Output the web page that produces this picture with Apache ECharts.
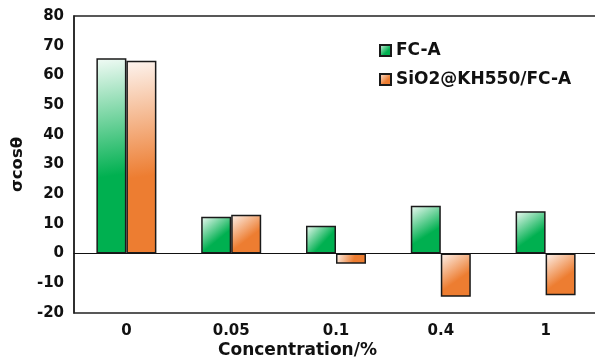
<!DOCTYPE html>
<html>
<head>
<meta charset="utf-8">
<script src="https://cdn.jsdelivr.net/npm/echarts@6/dist/echarts.min.js"></script>
<style>
  html, body { margin: 0; padding: 0; background: #fff; }
  #chart { width: 595px; height: 360px; }
</style>
</head>
<body>
<div id="chart"></div>
<script>
// Concentration levels on the x axis
const categories = ['0', '0.05', '0.1', '0.4', '1'];
// σcosθ for each coating
const fcA = [65.8, 12.4, 9.4, 16.1, 14.3];
const sio2FcA = [64.9, 13.1, -3.4, -14.5, -14.0];
const seriesNames = ['FC-A', 'SiO2@KH550/FC-A'];
const xTitle = 'Concentration/%';

const FONT = 'DejaVu Sans';

function fade(light, solid) {
  return new echarts.graphic.LinearGradient(0, 0, 1, 1, [
    { offset: 0, color: light },
    { offset: 0.6, color: solid },
    { offset: 1, color: solid }
  ]);
}

const chart = echarts.init(document.getElementById('chart'), null, { renderer: 'canvas' });

chart.setOption({
  animation: false,
  backgroundColor: '#fff',
  graphic: [{
    type: 'text',
    left: 'center',
    top: 342,
    style: {
      text: xTitle,
      font: 'bold 17px "DejaVu Sans"',
      fill: '#111'
    }
  }],
  grid: {
    left: 74, right: -3, top: 16, bottom: 47,
    outerBoundsMode: 'none',
    containLabel: false,
    show: true, borderColor: '#222', borderWidth: 1.5, backgroundColor: 'transparent'
  },
  legend: {
    left: 374, top: 37, orient: 'vertical', itemGap: 12,
    itemWidth: 11, itemHeight: 11, icon: 'rect',
    textStyle: { fontFamily: FONT, fontWeight: 'bold', fontSize: 17, color: '#111' },
    data: seriesNames
  },
  xAxis: {
    type: 'category',
    data: categories,
    position: 'bottom',
    axisLine: { onZero: true, lineStyle: { color: '#111', width: 1.2 } },
    axisTick: { show: false },
    axisLabel: {
      fontFamily: FONT, fontWeight: 'bold', fontSize: 15, color: '#111',
      margin: 11, interval: 0
    }
  },
  yAxis: {
    type: 'value',
    min: -20, max: 80, interval: 10,
    splitLine: { show: false },
    axisLine: { show: true, lineStyle: { color: '#222', width: 1.5 } },
    axisTick: { show: false },
    axisLabel: { fontFamily: FONT, fontWeight: 'bold', fontSize: 15, color: '#111', margin: 10 },
    name: 'σcosθ',
    nameLocation: 'middle',
    nameGap: 45,
    nameTextStyle: { fontFamily: FONT, fontWeight: 'bold', fontSize: 16.5, color: '#111' }
  },
  series: [
    {
      name: seriesNames[0],
      type: 'bar',
      data: fcA,
      barWidth: 30,
      barGap: '0%',
      itemStyle: { color: fade('#f2fbf6', '#00b050'), borderColor: '#1a1a1a', borderWidth: 1.5 }
    },
    {
      name: seriesNames[1],
      type: 'bar',
      data: sio2FcA,
      barWidth: 30,
      barGap: '0%',
      itemStyle: { color: fade('#fdf4ef', '#ed7d31'), borderColor: '#1a1a1a', borderWidth: 1.5 }
    }
  ]
});
</script>
</body>
</html>
